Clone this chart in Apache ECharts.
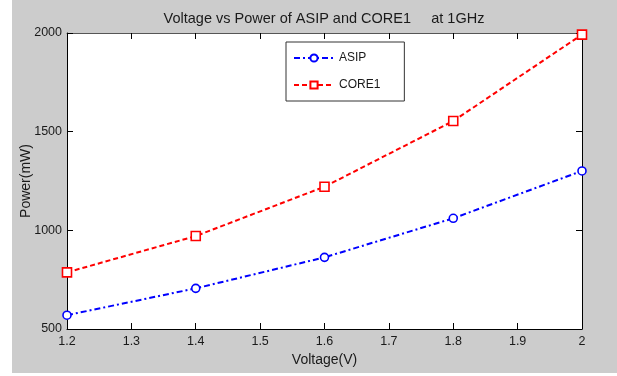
<!DOCTYPE html>
<html>
<head>
<meta charset="utf-8">
<script src="https://cdn.jsdelivr.net/npm/echarts@6/dist/echarts.min.js"></script>
<style>
  html, body { margin: 0; padding: 0; background: #fff; }
  #bg { position: absolute; left: 12px; top: 0; width: 605px; height: 373px; background: #cccccc; }
  #chart { position: absolute; left: 0; top: 0; width: 617px; height: 376px; }
</style>
</head>
<body>
<div id="bg"></div>
<div id="chart"></div>
<script>
// values
const voltage = [1.2, 1.4, 1.6, 1.8, 2.0];
const asipPower = [570, 706, 863, 1061, 1301];
const core1Power = [787, 971, 1221, 1554, 1992];

const FONT = "Liberation Sans, Arial, sans-serif";
const INK = "#1a1a1a";

const chart = echarts.init(document.getElementById("chart"), null, { renderer: "canvas" });

const pairs = (ys) => voltage.map((x, i) => [x, ys[i]]);

chart.setOption({
  animation: false,
  backgroundColor: "transparent",
  title: {
    text: "Voltage vs Power of ASIP and CORE1     at 1GHz",
    left: 324,
    textAlign: "center",
    top: 11,
    padding: 0,
    textStyle: { fontFamily: FONT, fontSize: 14.5, fontWeight: "normal", color: INK },
  },
  grid: {
    left: 67, right: 35, top: 33, bottom: 47,
    show: true, backgroundColor: "#ffffff", borderWidth: 0,
  },
  legend: {
    left: 286,
    top: 42,
    orient: "vertical",
    backgroundColor: "#ffffff",
    borderColor: "#333",
    borderWidth: 1,
    borderRadius: 0,
    padding: [10, 24, 10, 7],
    itemWidth: 40,
    itemHeight: 9,
    itemGap: 15,
    textStyle: { fontFamily: FONT, fontSize: 12, color: INK },
    data: ["ASIP", "CORE1"],
  },
  xAxis: [
    {
      type: "value",
      min: 1.2,
      max: 2,
      interval: 0.1,
      name: "Voltage(V)",
      nameLocation: "middle",
      nameGap: 24,
      nameTextStyle: { fontFamily: FONT, fontSize: 14, color: INK },
      axisLine: { show: true, lineStyle: { color: "#000", width: 1 } },
      axisTick: { show: true, inside: true, length: 6, lineStyle: { color: "#000" } },
      axisLabel: { margin: 6, fontFamily: FONT, fontSize: 12.5, color: INK },
      splitLine: { show: false },
    },
    {
      type: "value",
      position: "top",
      min: 1.2,
      max: 2,
      interval: 0.1,
      axisLine: { show: true, lineStyle: { color: "#555", width: 1 } },
      axisTick: { show: true, inside: true, length: 6, lineStyle: { color: "#000" } },
      axisLabel: { show: false },
      splitLine: { show: false },
    },
  ],
  yAxis: [
    {
      type: "value",
      min: 500,
      max: 2000,
      interval: 500,
      name: "Power(mW)",
      nameLocation: "middle",
      nameGap: 34,
      nameMoveOverlap: false,
      nameTextStyle: { fontFamily: FONT, fontSize: 14, color: INK },
      axisLine: { show: true, lineStyle: { color: "#000", width: 1 } },
      axisTick: { show: true, inside: true, length: 6, lineStyle: { color: "#000" } },
      axisLabel: { margin: 5, fontFamily: FONT, fontSize: 12.5, color: INK, formatter: (v) => String(v) },
      splitLine: { show: false },
    },
    {
      type: "value",
      position: "right",
      min: 500,
      max: 2000,
      interval: 500,
      axisLine: { show: true, lineStyle: { color: "#000", width: 1 } },
      axisTick: { show: true, inside: true, length: 6, lineStyle: { color: "#000" } },
      axisLabel: { show: false },
      splitLine: { show: false },
    },
  ],
  series: [
    {
      name: "ASIP",
      type: "line",
      data: pairs(asipPower),
      symbol: "circle",
      symbolSize: 8,
      showAllSymbol: true,
      itemStyle: { color: "#fff", borderColor: "#0000ff", borderWidth: 1.6 },
      lineStyle: { color: "#0000ff", width: 2, type: [6, 3, 2, 3] },
    },
    {
      name: "CORE1",
      type: "line",
      data: pairs(core1Power),
      symbol: "rect",
      symbolSize: 9,
      showAllSymbol: true,
      itemStyle: { color: "#fff", borderColor: "#ff0000", borderWidth: 1.6 },
      lineStyle: { color: "#ff0000", width: 2, type: [5, 3] },
    },
  ],
});
</script>
</body>
</html>
